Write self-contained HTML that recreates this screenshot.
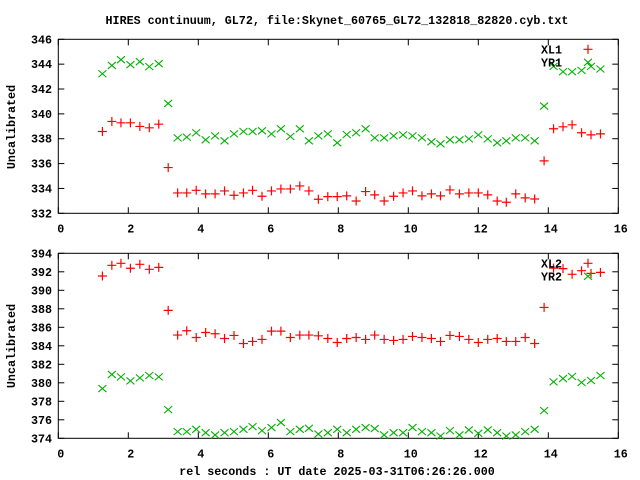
<!DOCTYPE html>
<html><head><meta charset="utf-8"><style>
html,body{margin:0;padding:0;background:#fff;}
svg{display:block;}
text{font-family:"Liberation Mono",monospace;font-weight:bold;font-size:11.7px;fill:#000;}
</style></head><body>
<svg id="chart" width="640" height="480" viewBox="0 0 640 480" xmlns="http://www.w3.org/2000/svg">
<text x="337" y="24" text-anchor="middle">HIRES continuum, GL72, file:Skynet_60765_GL72_132818_82820.cyb.txt</text>
<text x="337" y="475" text-anchor="middle">rel seconds : UT date 2025-03-31T06:26:26.000</text>
<text transform="translate(15,127) rotate(-90)" text-anchor="middle">Uncalibrated</text>
<text transform="translate(15,346) rotate(-90)" text-anchor="middle">Uncalibrated</text>
</svg>
<script>
const times = [1.26,1.53,1.79,2.06,2.33,2.60,2.87,3.14,3.41,3.67,3.94,4.21,4.48,4.75,5.02,5.29,5.55,5.82,6.09,6.36,6.63,6.90,7.16,7.43,7.70,7.97,8.24,8.51,8.78,9.04,9.31,9.58,9.85,10.12,10.39,10.66,10.92,11.19,11.46,11.73,12.00,12.27,12.54,12.80,13.07,13.34,13.61,13.88,14.15,14.42,14.68,14.95,15.22,15.49];
const xl1 = [338.58,339.39,339.28,339.28,338.99,338.88,339.17,335.68,333.64,333.64,333.85,333.56,333.56,333.80,333.45,333.64,333.85,333.37,333.80,333.96,333.96,334.20,333.80,333.13,333.34,333.34,333.40,332.99,333.75,333.48,332.99,333.37,333.64,333.80,333.40,333.56,333.40,333.88,333.56,333.64,333.64,333.48,332.99,332.89,333.56,333.24,333.15,336.22,338.80,338.96,339.12,338.48,338.31,338.39];
const yr1 = [343.23,343.90,344.36,343.96,344.20,343.80,344.04,340.84,338.07,338.13,338.48,337.91,338.23,337.83,338.39,338.58,338.58,338.64,338.39,338.80,338.18,338.80,337.83,338.23,338.39,337.67,338.34,338.48,338.80,338.07,338.07,338.23,338.31,338.23,338.07,337.75,337.59,337.91,337.91,337.99,338.31,337.99,337.67,337.83,338.07,338.07,337.83,340.63,343.82,343.39,343.39,343.50,343.82,343.61];
const xl2 = [391.55,392.70,392.92,392.38,392.81,392.27,392.48,387.83,385.16,385.63,384.90,385.44,385.30,384.79,385.12,384.25,384.47,384.69,385.59,385.59,384.90,385.16,385.16,385.08,384.79,384.36,384.79,384.90,384.69,385.16,384.69,384.58,384.69,385.01,384.90,384.79,384.47,385.12,385.01,384.69,384.36,384.69,384.79,384.47,384.47,384.90,384.25,388.15,392.40,392.34,391.73,392.12,391.83,391.94];
const yr2 = [379.38,380.90,380.64,380.21,380.53,380.79,380.64,377.10,374.72,374.72,374.97,374.61,374.36,374.61,374.72,374.97,375.26,374.83,375.16,375.70,374.72,374.97,375.08,374.46,374.61,374.97,374.61,374.97,375.16,375.05,374.36,374.61,374.61,375.16,374.72,374.61,374.25,374.83,374.36,374.90,374.54,374.90,374.61,374.25,374.36,374.72,374.97,376.99,380.10,380.46,380.68,380.03,380.25,380.79];
const xTicks = [0,2,4,6,8,10,12,14,16];
const yTicksTop = [332,334,336,338,340,342,344,346];
const yTicksBot = [374,376,378,380,382,384,386,388,390,392,394];

const svg = document.getElementById('chart');
const NS = 'http://www.w3.org/2000/svg';
function mk(tag, attrs, parent){const e=document.createElementNS(NS,tag);for(const k in attrs)e.setAttribute(k,attrs[k]);(parent||svg).appendChild(e);return e;}

function panel(name, top, bottom, ymin, ymax, yticks, s1, s2, n1, n2){
  const L=58.3, R=618.3;
  const sx = v => L + (v-0)/(16-0)*(R-L);
  const sy = v => bottom - (v-ymin)/(ymax-ymin)*(bottom-top);
  const g = mk('g',{});
  
  
  const frame = mk('rect',{x:L,y:top,width:R-L,height:bottom-top,fill:'none',stroke:'#000','stroke-width':1},g);
  
  
  xTicks.forEach(t=>{
    const x=sx(t);
    mk('line',{x1:x,y1:bottom,x2:x,y2:bottom-6,stroke:'#000'},g);
    mk('line',{x1:x,y1:top,x2:x,y2:top+6,stroke:'#000'},g);
    const tx=mk('text',{x:x+2.5,y:bottom+19,'text-anchor':'middle'},g);
    tx.textContent=t;
    
    
  });
  yticks.forEach(t=>{
    const y=sy(t);
    mk('line',{x1:L,y1:y,x2:L+6,y2:y,stroke:'#000'},g);
    mk('line',{x1:R,y1:y,x2:R-6,y2:y,stroke:'#000'},g);
    const ty=mk('text',{x:52,y:y+4,'text-anchor':'end'},g);
    ty.textContent=t;
    
    
  });
  function plus(x,y,parent){mk('path',{d:`M${x-4.5},${y}H${x+4.5}M${x},${y-4.5}V${y+4.5}`,stroke:'#ff0000','stroke-width':1.2,fill:'none'},parent);}
  function cross(x,y,parent){mk('path',{d:`M${x-4},${y-3.5}L${x+4},${y+3.5}M${x-4},${y+3.5}L${x+4},${y-3.5}`,stroke:'#00b000','stroke-width':1.1,fill:'none'},parent);}
  const g1=mk('g',{},g);
  
  
  const g2=mk('g',{},g);
  
  
  times.forEach((t,i)=>{ cross(sx(t),sy(s2[i]),g2); });
  times.forEach((t,i)=>{ plus(sx(t),sy(s1[i]),g1); });
  const lg=mk('g',{},g);
  
  
  const a=mk('text',{x:541,y:top+14},lg); a.textContent=n1;
  
  
  plus(588,top+10,lg);
  const b=mk('text',{x:541,y:top+27},lg); b.textContent=n2;
  
  
  cross(588,top+23,lg);
}
panel('top-panel',39.3,213.3,332,346,yTicksTop,xl1,yr1,'XL1','YR1');
panel('bottom-panel',253.3,438.3,374,394,yTicksBot,xl2,yr2,'XL2','YR2');
</script>
</body></html>
